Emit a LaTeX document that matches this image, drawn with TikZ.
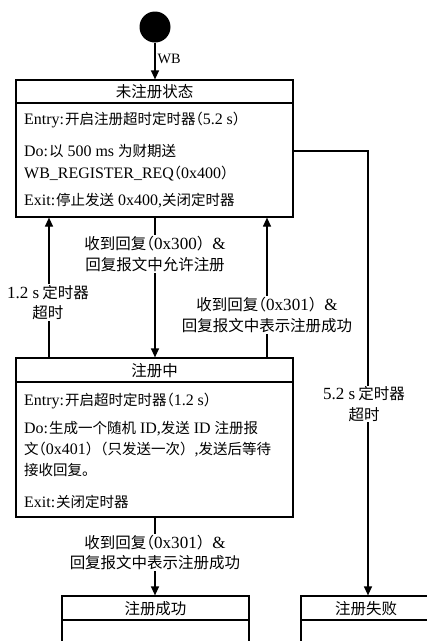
\documentclass[tikz,border=0pt]{standalone}
\usepackage{fontspec}
\setmainfont{Liberation Serif}[Scale=1.1]
\newfontfamily\cjk{Noto Sans CJK SC}
\newcommand\zh[1]{{\cjk #1}}
\newcommand\lpar{{\cjk\kern-0.5em（}}
\newcommand\rpar{{\cjk ）}}
\usetikzlibrary{arrows.meta}
\begin{document}
\begin{tikzpicture}[x=1pt,y=-1pt,
  box/.style={draw, line width=1.2pt, inner sep=0pt},
  sep/.style={line width=1.2pt},
  txt/.style={anchor=base west, inner sep=0pt, font=\fontsize{14.5}{20}\selectfont},
  hdr/.style={anchor=base, inner sep=0pt, font=\fontsize{15.5}{20}\selectfont},
  lbl/.style={fill=white, align=center, inner sep=1pt, font=\fontsize{15.5}{20.5}\selectfont},
  arr/.style={line width=1.2pt, -{Triangle[length=9pt,width=8pt]}},
]
\useasboundingbox (0,0) rectangle (427,641);
\clip (0,0) rectangle (427,641);
\fill[white] (0,0) rectangle (427,641);

% initial state
\node[circle, fill=black, minimum size=31pt, inner sep=0pt] (init) at (155,27) {};

% state boxes
\node[box, minimum width=277pt, minimum height=137pt] (s1) at (154.5,148.5) {};
\node[box, minimum width=277pt, minimum height=159pt] (s2) at (154.5,437.5) {};
\node[box, minimum width=187pt, minimum height=70pt] (s3) at (155.5,631) {};
\node[box, minimum width=160pt, minimum height=70pt] (s4) at (381,631) {};

\coordinate (h1) at (0,103);
\coordinate (h2) at (0,382);
\coordinate (h3) at (0,620);
\draw[sep] (s1.west |- h1) -- (s1.east |- h1);
\draw[sep] (s2.west |- h2) -- (s2.east |- h2);
\draw[sep] (s3.west |- h3) -- (s3.east |- h3);
\draw[sep] (s4.west |- h3) -- (s4.east |- h3);

% headers
\node[hdr] (t1) at (154.5,97) {\zh{未注册状态}};
\node[hdr] (t2) at (154.5,376) {\zh{注册中}};
\node[hdr] (t3) at (155.5,614) {\zh{注册成功}};
\node[hdr] (t4) at (366,614) {\zh{注册失败}};

% s1 body
\node[txt] (e1) at (24,124) {Entry:\kern1pt\zh{开启注册超时定时器}\lpar 5.2 s\rpar};
\node[txt] (d1a) at (24,156) {Do:\kern1pt\zh{以} 500 ms \zh{为财期送}};
\node[txt] (d1b) at (24,178) {WB\_REGISTER\_REQ\lpar 0x400\rpar};
\node[txt] (x1) at (24,205) {Exit:\kern1pt\zh{停止发送} 0x400,\zh{关闭定时器}};

% s2 body
\node[txt] (e2) at (24,405) {Entry:\kern1pt\zh{开启超时定时器}\lpar 1.2 s\rpar};
\node[txt] (d2a) at (24,433) {Do:\kern1pt\zh{生成一个随机} ID,\zh{发送} ID \zh{注册报}};
\node[txt] (d2b) at (24,454) {\zh{文}\lpar 0x401\rpar\lpar\zh{只发送一次}\rpar,\zh{发送后等待}};
\node[txt] (d2c) at (24,475) {\zh{接收回复。}};
\node[txt] (x2) at (24,507) {Exit:\kern1pt\zh{关闭定时器}};

% transitions
\coordinate (r1) at (368,151);
\draw[arr] (init.south) -- (init.south |- s1.north);
\draw[arr] (init.south |- s1.south) -- (init.south |- s2.north);
\draw[arr] ([xshift=-105.5pt]s2.north) -- ([xshift=-105.5pt]s1.south);
\draw[arr] ([xshift=112.5pt]s2.north) -- ([xshift=112.5pt]s1.south);
\draw[arr] (s1.east |- r1) -- (r1) -- (r1 |- s4.north);
\draw[arr] (init.south |- s2.south) -- (init.south |- s3.north);

% labels
\node[anchor=west, inner sep=0pt, font=\fontsize{13}{13}\selectfont] (wb) at (157.5,59) {WB};
\node[lbl] (l1) at (155,254) {\zh{收到回复}\lpar 0x300\rpar\&\\\zh{回复报文中允许注册}};
\node[lbl] (l2) at (48,302.5) {1.2 s\kern3pt\zh{定时器}\\\zh{超时}};
\node[lbl] (l3) at (267,315) {\zh{收到回复}\lpar 0x301\rpar\&\\\zh{回复报文中表示注册成功}};
\node[lbl] (l4) at (364,404) {5.2 s\kern3pt\zh{定时器}\\\zh{超时}};
\node[lbl] (l5) at (155,552.5) {\zh{收到回复}\lpar 0x301\rpar\&\\\zh{回复报文中表示注册成功}};
\end{tikzpicture}
\end{document}
